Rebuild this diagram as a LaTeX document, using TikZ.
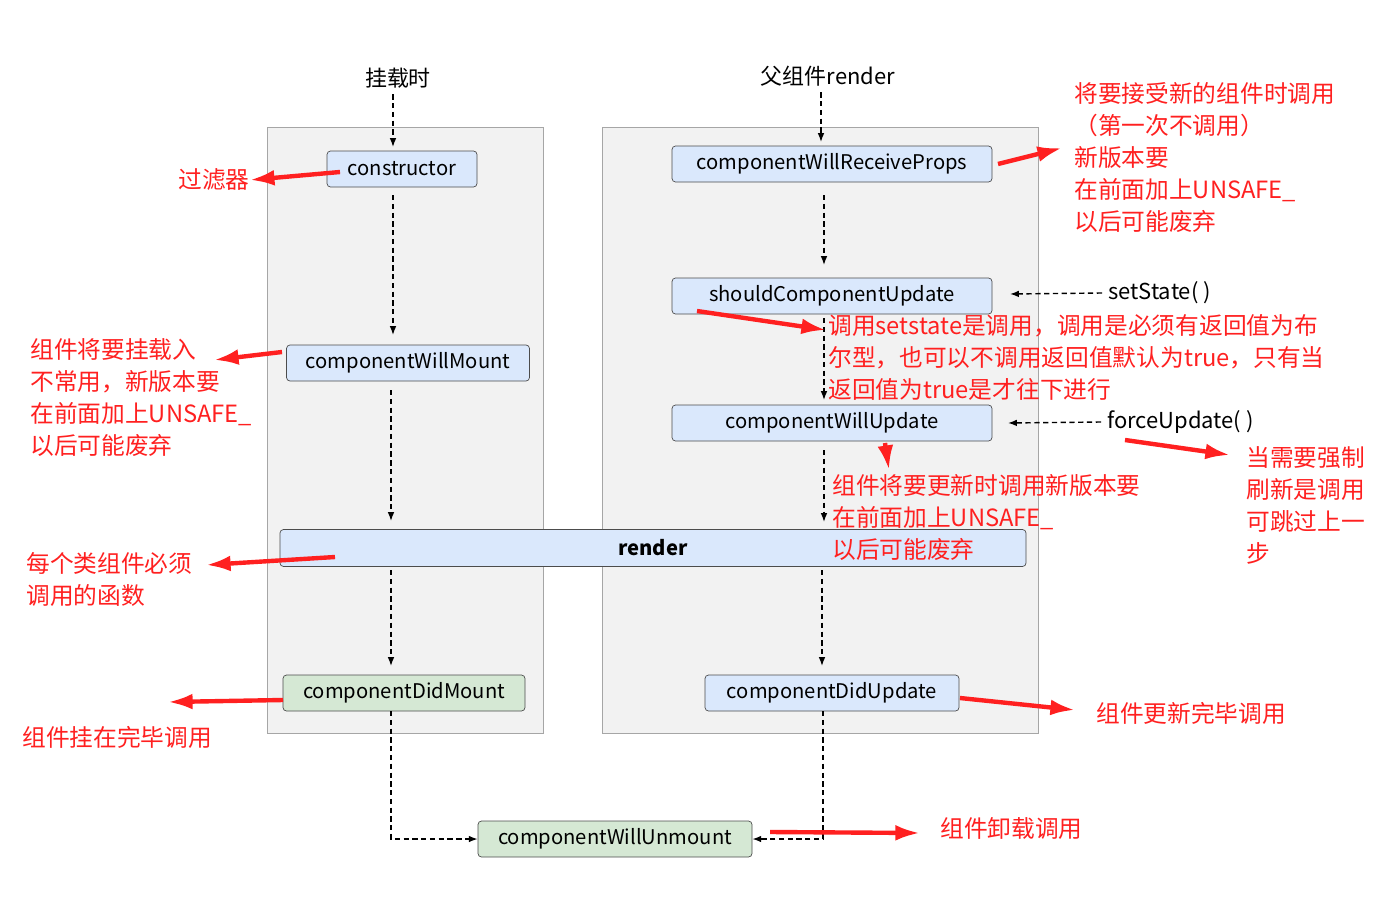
\documentclass[tikz,border=0pt]{standalone}
\usepackage{fontspec}
\setmainfont{Noto Sans CJK SC}
\usetikzlibrary{arrows.meta}
\definecolor{boxblue}{HTML}{DAE8FC}
\definecolor{boxgreen}{HTML}{D5E8D4}
\definecolor{panelgray}{HTML}{F2F2F2}
\definecolor{noteRed}{HTML}{FF2020}
\begin{document}
\begin{tikzpicture}[x=0.02cm,y=-0.02cm,
  stage/.style={draw=black!70, rounded corners=2pt, inner sep=0pt, font=\fontsize{11.5}{13}\selectfont},
  blue/.style={stage, fill=boxblue},
  green/.style={stage, fill=boxgreen},
  flow/.style={densely dashed, thick, -{Latex[length=5pt]}},
  note/.style={text=noteRed, font=\fontsize{13.5}{18.2}\selectfont, align=left, anchor=west, inner sep=0pt},
  pointer/.style={noteRed, line width=2.5pt, -{Latex[length=14pt,width=9pt]}}]
  \useasboundingbox (0,0) rectangle (1398,909);
  % panels
  \draw[black!35, fill=panelgray] (267,127) rectangle (543,733);
  \draw[black!35, fill=panelgray] (602,127) rectangle (1038,733);
  % headings
  \node[font=\fontsize{12.5}{14}\selectfont] (mount) at (398,78) {挂载时};
  \node[font=\fontsize{12.5}{14}\selectfont] (parent) at (828,76) {父组件render};
  % stages
  \node[blue, minimum width=150*0.02cm, minimum height=36*0.02cm] (ctor) at (402,169) {constructor};
  \node[blue, minimum width=243*0.02cm, minimum height=36*0.02cm] (cwm) at (408,363) {componentWillMount};
  \node[stage, fill=boxblue, minimum width=746*0.02cm, minimum height=37*0.02cm, font=\fontsize{11.5}{13}\selectfont\bfseries] (render) at (653,548) {render};
  \node[green, minimum width=242*0.02cm, minimum height=36*0.02cm] (cdm) at (404,693) {componentDidMount};
  \node[green, minimum width=274*0.02cm, minimum height=36*0.02cm] (cwu) at (615,839) {componentWillUnmount};
  \node[blue, minimum width=320*0.02cm, minimum height=36*0.02cm] (cwrp) at (832,164) {componentWillReceiveProps};
  \node[blue, minimum width=320*0.02cm, minimum height=36*0.02cm] (scu) at (832,296) {shouldComponentUpdate};
  \node[blue, minimum width=320*0.02cm, minimum height=36*0.02cm] (cwup) at (832,423) {componentWillUpdate};
  \node[blue, minimum width=254*0.02cm, minimum height=36*0.02cm] (cdu) at (832,693) {componentDidUpdate};
  \node[font=\fontsize{12.5}{14}\selectfont, anchor=west] (setstate) at (1102,293) {setState( )};
  \node[font=\fontsize{12.5}{14}\selectfont, anchor=west] (force) at (1101,422) {forceUpdate( )};
  % flow
  \draw[flow] (mount.south -| 393,0) -- (393,147);
  \draw[flow] (393,195) -- (393,335);
  \draw[flow] (391,390) -- (391,521);
  \draw[flow] (391,570) -- (391,666);
  \draw[flow] (391,711) -- (391,839) -- (cwu.west);
  \draw[flow] (parent.south -| 821,0) -- (821,142);
  \draw[flow] (824,195) -- (824,265);
  \draw[flow] (824,318) -- (824,400);
  \draw[flow] (824,450) -- (824,522);
  \draw[flow] (822,570) -- (822,666);
  \draw[flow] (823,711) -- (823,839) -- (cwu.east);
  \draw[flow] (setstate.west) -- (1010,294);
  \draw[flow] (force.west) -- (1008,423);
  % notes
  \node[note] (n1) at (178,180) {过滤器};
  \node[note, anchor=north west] (n2) at (30,338) {组件将要挂载入\\不常用，新版本要\\在前面加上UNSAFE\_\\以后可能废弃};
  \node[note, anchor=north west] (n3) at (26,552) {每个类组件必须\\调用的函数};
  \node[note] (n4) at (22,737) {组件挂在完毕调用};
  \node[note, anchor=north west] (n5) at (1074,82) {将要接受新的组件时调用\\（第一次不调用）\\新版本要\\在前面加上UNSAFE\_\\以后可能废弃};
  \node[note, anchor=north west] (n6) at (828,314) {调用setstate是调用，调用是必须有返回值为布\\尔型，也可以不调用返回值默认为true，只有当\\返回值为true是才往下进行};
  \node[note, anchor=north west] (n7) at (832,474) {组件将要更新时调用新版本要\\在前面加上UNSAFE\_\\以后可能废弃};
  \node[note, anchor=north west] (n8) at (1246,446) {当需要强制\\刷新是调用\\可跳过上一\\步};
  \node[note] (n9) at (1096,713) {组件更新完毕调用};
  \node[note] (n10) at (940,828) {组件卸载调用};
  % pointers
  \coordinate (p1) at (340,172); \draw[pointer] (p1) -- (n1.east);
  \coordinate (p2) at (282,352); \draw[pointer] (p2) -- (214,360);
  \coordinate (p3) at (335,557); \draw[pointer] (p3) -- (206,565);
  \coordinate (p4) at (283,700); \draw[pointer] (p4) -- (168,702);
  \coordinate (p5) at (998,164); \draw[pointer] (p5) -- (1062,148);
  \coordinate (p6) at (697,311); \draw[pointer] (p6) -- (826,330);
  \coordinate (p7) at (885,443); \draw[pointer] (p7) -- (889,470);
  \coordinate (p8) at (1125,440); \draw[pointer] (p8) -- (1230,455);
  \coordinate (p9) at (960,698); \draw[pointer] (p9) -- (1075,710);
  \coordinate (p10) at (770,832); \draw[pointer] (p10) -- (920,833);
\end{tikzpicture}
\end{document}
